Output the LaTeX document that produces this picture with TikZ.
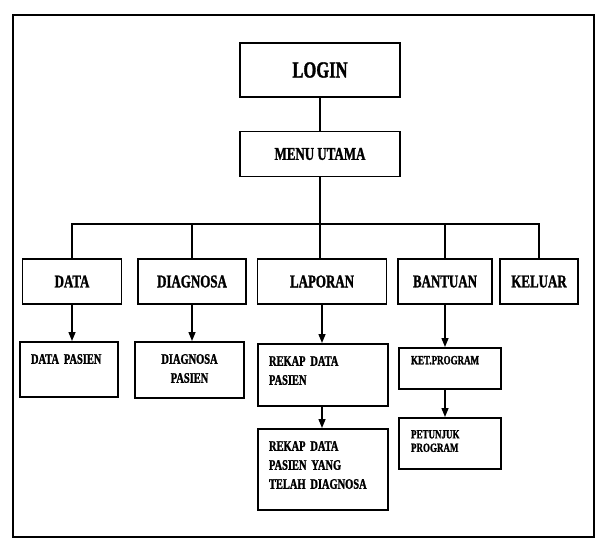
\documentclass[tikz,border=0pt]{standalone}
\usepackage{fontspec}
\setmainfont{Liberation Serif}[FakeStretch=0.72, BoldFeatures={FakeBold=1.4}]
\usetikzlibrary{positioning, arrows.meta, calc}

\tikzset{
  menubox/.style={draw, line width=1.6pt, inner sep=0pt, font=\bfseries\fontsize{18}{20}\selectfont},
  subbox/.style={draw, line width=1.5pt, anchor=north, inner xsep=11pt, inner ysep=0pt,
                 align=left, text height=22pt, font=\bfseries\fontsize{14.5}{19}\selectfont},
  smallbox/.style={subbox, inner xsep=12pt, font=\bfseries\fontsize{12.5}{13.5}\selectfont},
  link/.style={line width=1.4pt},
  arr/.style={link, -{Triangle[length=9pt, width=7pt]}}
}

\begin{document}
\begin{tikzpicture}[x=1pt, y=-1pt]
  \useasboundingbox (0,0) rectangle (596,546);
  \draw[line width=2.2pt] (13,15) rectangle (594,537);

  \node[menubox, minimum width=160pt, minimum height=54pt,
        font=\bfseries\fontsize{23}{25}\selectfont] (login) at (320,70) {LOGIN};
  \node[menubox, minimum width=160pt, minimum height=45pt] (menu) at (320,154) {MENU UTAMA};
  \coordinate (bus) at (320,224);

  % menu pilihan
  \node[menubox, minimum width=99pt, minimum height=45pt] (data) at (72,281.5) {DATA};
  \node[menubox, minimum width=108pt, minimum height=45pt] (diagnosa) at (192,281.5) {DIAGNOSA};
  \node[menubox, minimum width=129pt, minimum height=45pt] (laporan) at (322,281.5) {LAPORAN};
  \node[menubox, minimum width=94pt, minimum height=45pt] (bantuan) at (445,281.5) {BANTUAN};
  \node[menubox, minimum width=78pt, minimum height=45pt] (keluar) at (539,281.5) {KELUAR};

  % sub menu
  \node[subbox, text width=76pt, text depth=33pt] (datapasien) at (69,341) {DATA PASIEN};
  \node[subbox, align=center, text width=87pt, text depth=34pt] (diagpasien) at (189.5,341) {DIAGNOSA\\PASIEN};
  \node[subbox, text width=108pt, text depth=40pt] (rekap) at (323,343) {REKAP DATA\\PASIEN};
  \node[subbox, text width=108pt, text depth=59pt] (rekapdiag) at (323,428) {REKAP DATA\\PASIEN YANG\\TELAH DIAGNOSA};
  \node[smallbox, text width=78pt, text height=16.5pt, text depth=24.5pt] (ketprog) at (450,347) {KET.PROGRAM};
  \node[smallbox, text width=78pt, text height=20.6pt, text depth=30.4pt] (petunjuk) at (450,417) {PETUNJUK\\PROGRAM};

  \draw[link] (login) -- (menu);
  \draw[link] (menu.south) -- (menu.south |- laporan.north);
  \draw[link] (data.north) |- (bus) -| (keluar.north);
  \draw[link] (diagnosa.north) -- (diagnosa.north |- bus);
  \draw[link] (bantuan.north) -- (bantuan.north |- bus);

  \draw[arr] (data.south) -- (data.south |- datapasien.north);
  \draw[arr] (diagnosa.south) -- (diagnosa.south |- diagpasien.north);
  \draw[arr] (laporan.south) -- (laporan.south |- rekap.north);
  \draw[arr] (laporan.south |- rekap.south) -- (laporan.south |- rekapdiag.north);
  \draw[arr] (bantuan.south) -- (bantuan.south |- ketprog.north);
  \draw[arr] (bantuan.south |- ketprog.south) -- (bantuan.south |- petunjuk.north);
\end{tikzpicture}
\end{document}
